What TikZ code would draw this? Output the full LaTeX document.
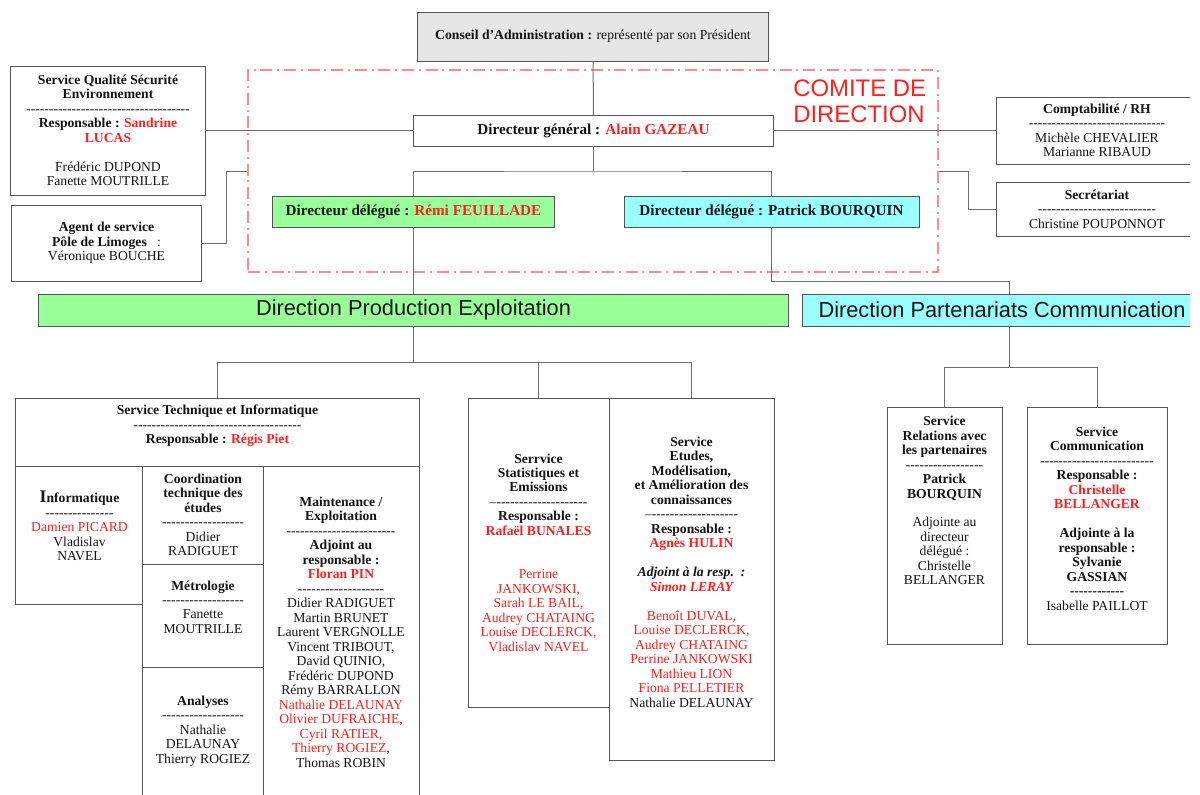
\documentclass[tikz,border=0pt]{standalone}
\usepackage{fontspec}
\setmainfont{Liberation Serif}
\setsansfont{Liberation Sans}
\usetikzlibrary{positioning}
\definecolor{vert}{HTML}{99FF99}
\definecolor{ciel}{HTML}{99FFFF}
\definecolor{grisfond}{HTML}{E6E6E6}
\definecolor{cadre}{HTML}{555555}
\definecolor{trait}{HTML}{6E6E6E}
\definecolor{ink}{HTML}{141414}
\definecolor{rouge}{HTML}{FF1F1F}
\definecolor{pointille}{HTML}{FF8C8C}
\newcommand{\corps}{\fontsize{9.7}{10.3}\selectfont}
\newcommand{\titre}{\bfseries\fontsize{10.8}{12}\selectfont}
\newcommand{\rouge}[1]{\textcolor{rouge}{#1}}
\newcommand{\tirets}[1]{\foreach\k in {1,...,#1}{\mbox{-}}}
\newcommand{\fond}[1]{\rule[-#1]{0pt}{#1}}% pushes the text up in its box
\tikzset{
  cell/.style={rectangle, draw=cadre, line width=0.25mm, fill=white, align=center,
               inner sep=1mm, outer sep=0pt, text=ink, font=\corps},
  chef/.style={cell, font=\titre, minimum height=7.75mm},
  direction/.style={cell, font=\sffamily\fontsize{15.5}{17}\selectfont, minimum height=8mm},
  lien/.style={draw=trait, line width=0.25mm},
  comite/.style={draw=pointille, line width=0.3mm,
                 dash pattern=on 3mm off 1.2mm on 0.5mm off 1.2mm},
}

\begin{document}
\begin{tikzpicture}[x=0.25mm, y=-0.25mm]
  \useasboundingbox (0,0) rectangle (1200,794);
  \begin{scope}
  \clip (0,0) rectangle (1190,794);

  % comite de direction
  \node[comite, minimum width=172.5mm, minimum height=50.5mm] (comite) at (593,171) {};
  \node[anchor=north west, inner sep=0pt, align=left, text=rouge,
        font=\sffamily\fontsize{17}{18.4}\selectfont] (comitetitre) at (793,80)
    {COMITE DE\\DIRECTION};

  % tete
  \node[cell, fill=grisfond, font=\fontsize{9.75}{11}\selectfont,
        minimum width=87.5mm, minimum height=12.25mm] (conseil) at (593,36.5)
    {\textbf{Conseil d'Administration :} représenté par son Président};
  \node[chef, minimum width=89.75mm] (dg) at (593.5,130.5)
    {Directeur général : \rouge{Alain GAZEAU}};
  \node[chef, fill=vert, minimum width=70.25mm] (remi) at (413.5,211.5)
    {Directeur délégué : \rouge{Rémi FEUILLADE}};
  \node[chef, fill=ciel, minimum width=73.75mm] (patrick) at (771.5,211.5)
    {Directeur délégué : Patrick BOURQUIN};

  % services rattaches
  \node[cell, minimum width=48.5mm, minimum height=32.25mm] (sqse) at (108,130.5)
    {\textbf{Service Qualité Sécurité}\\ \textbf{Environnement}\\ \tirets{36}\\
     \textbf{Responsable : \rouge{Sandrine}}\\ \textbf{\rouge{LUCAS}}\\[10.3pt]
     Frédéric DUPOND\\ Fanette MOUTRILLE};
  \node[cell, minimum width=47.25mm, minimum height=19mm] (agent) at (106.5,243)
    {\textbf{Agent de service}\\ \textbf{Pôle de Limoges}\ \ \ :\\ Véronique BOUCHE};
  \node[cell, minimum width=50.5mm, minimum height=16.75mm] (compta) at (1097,130.5)
    {\textbf{Comptabilité / RH}\\ \tirets{30}\\ Michèle CHEVALIER\\ Marianne RIBAUD};
  \node[cell, minimum width=50.5mm, minimum height=13.5mm] (secr) at (1097,209)
    {\textbf{Secrétariat}\\ \tirets{26}\\ Christine POUPONNOT};

  % directions
  \node[direction, fill=vert, minimum width=187.25mm] (dpe) at (413.5,310)
    {Direction Production Exploitation};
  \node[direction, fill=ciel, minimum width=103.5mm] (dpc) at (1009,310)
    {Direction Partenariats Communication\hspace{3.5mm}};

  % service technique et informatique
  \node[cell, minimum width=100.75mm, minimum height=17mm] (sti) at (217.5,432)
    {\textbf{Service Technique et Informatique}\\ \tirets{37}\\
     \textbf{Responsable : \rouge{Régis Piet}}\fond{3.9mm}};
  \node[cell, minimum width=31.75mm, minimum height=34.5mm] (info) at (79.5,535)
    {\textbf{{\fontsize{12.6}{12.6}\selectfont I}nformatique}\\ \tirets{15}\\
     \rouge{Damien PICARD}\\ Vladislav\\ NAVEL\fond{4.5mm}};
  \node[cell, minimum width=30mm, minimum height=24.5mm] (coord) at (203,515)
    {\textbf{Coordination}\\ \textbf{technique des}\\ \textbf{études}\\ \tirets{18}\\
     Didier\\ RADIGUET};
  \node[cell, minimum width=30mm, minimum height=25.75mm, below=0pt of coord] (metro)
    {\textbf{Métrologie}\\ \tirets{18}\\ Fanette\\ MOUTRILLE\fond{4.25mm}};
  \node[cell, minimum width=30mm, minimum height=32mm, below=0pt of metro] (analy)
    {\textbf{Analyses}\\ \tirets{18}\\ Nathalie\\ DELAUNAY\\ Thierry ROGIEZ};
  \node[cell, anchor=north west, minimum width=39mm, minimum height=83mm] (maint)
    at (coord.north east)
    {\textbf{Maintenance /}\\ \textbf{Exploitation}\\ \tirets{24}\\
     \textbf{Adjoint au}\\ \textbf{responsable :}\\ \textbf{\rouge{Floran PIN}}\\
     \tirets{19}\\ Didier RADIGUET\\ Martin BRUNET\\ Laurent VERGNOLLE\\
     Vincent TRIBOUT,\\ David QUINIO,\\ Frédéric DUPOND\\ Rémy BARRALLON\\
     \rouge{Nathalie DELAUNAY}\\ \rouge{Olivier DUFRAICHE,}\\ \rouge{Cyril RATIER,}\\
     \rouge{Thierry ROGIEZ},\\ Thomas ROBIN};

  % statistiques et etudes
  \node[cell, minimum width=35.25mm, minimum height=77.25mm] (stat) at (538.5,552.5)
    {\textbf{Serrvice}\\ \textbf{Statistiques et}\\ \textbf{Emissions}\\
     \textendash\tirets{20}\\ \textbf{Responsable :}\\ \textbf{\rouge{Rafaël BUNALES}}\\[20.6pt]
     \rouge{Perrine}\\ \rouge{JANKOWSKI,}\\ \rouge{Sarah LE BAIL,}\\
     \rouge{Audrey CHATAING}\\ \rouge{Louise DECLERCK,}\\ \rouge{Vladislav NAVEL}};
  \node[cell, anchor=north west, minimum width=41.25mm, minimum height=90.5mm] (etudes)
    at (stat.north east)
    {\textbf{Service}\\ \textbf{Etudes,}\\ \textbf{Modélisation,}\\
     \textbf{et Amélioration des}\\ \textbf{connaissances}\\ \textendash\tirets{19}\\
     \textbf{Responsable :}\\ \textbf{\rouge{Agnès HULIN}}\\[10.3pt]
     \textbf{\textit{Adjoint à la resp.\ \ :}}\\ \textbf{\textit{\rouge{Simon LERAY}}}\\[10.3pt]
     \rouge{Benoît DUVAL,}\\ \rouge{Louise DECLERCK,}\\ \rouge{Audrey CHATAING}\\
     \rouge{Perrine JANKOWSKI}\\ \rouge{Mathieu LION}\\ \rouge{Fiona PELLETIER}\\
     Nathalie DELAUNAY\fond{3.5mm}};

  % partenariats et communication
  \node[cell, minimum width=28.75mm, minimum height=59.25mm] (rel) at (944.5,525.5)
    {\textbf{Service}\\ \textbf{Relations avec}\\ \textbf{les partenaires}\\ \tirets{17}\\
     \textbf{Patrick}\\ \textbf{BOURQUIN}\\[10.3pt]
     Adjointe au\\ directeur\\ délégué :\\ Christelle\\ BELLANGER\fond{12.5mm}};
  \node[cell, minimum width=35mm, minimum height=59.25mm] (comm) at (1097,525.5)
    {\textbf{Service}\\ \textbf{Communication}\\ \tirets{25}\\
     \textbf{Responsable :}\\ \textbf{\rouge{Christelle}}\\ \textbf{\rouge{BELLANGER}}\\[10.3pt]
     \textbf{Adjointe à la}\\ \textbf{responsable :}\\ \textbf{Sylvanie}\\ \textbf{GASSIAN}\\
     \textbf{\tirets{12}}\\ Isabelle PAILLOT\fond{3.5mm}};

  % liaisons
  \draw[lien] (conseil) -- (dg);
  \draw[lien] (dg.west) -- (sqse.east);
  \draw[lien] (dg.east) -- (compta.west);
  \draw[lien] (agent.east) -- ++(25,0) |- (comite.west);
  \draw[lien] (secr.west) -- ++(-28,0) |- (comite.east);
  \draw[lien] (dg.south) -- ++(0,25) coordinate (dgbus);
  \draw[lien] (remi.north) |- (dgbus) -| (patrick.north);
  \draw[lien] (remi) -- (dpe);
  \draw[lien] (patrick.south) -- ++(0,54) -| (dpc.north);
  \draw[lien] (dpe.south) -- ++(0,36) coordinate (dpebus);
  \draw[lien] (sti.north) |- (dpebus) -| (etudes.north);
  \draw[lien] (stat.north) -- (stat.north |- dpebus);
  \draw[lien] (dpc.south) -- ++(0,41) coordinate (dpcbus);
  \draw[lien] (rel.north) |- (dpcbus) -| (comm.north);
  \end{scope}
\end{tikzpicture}
\end{document}
